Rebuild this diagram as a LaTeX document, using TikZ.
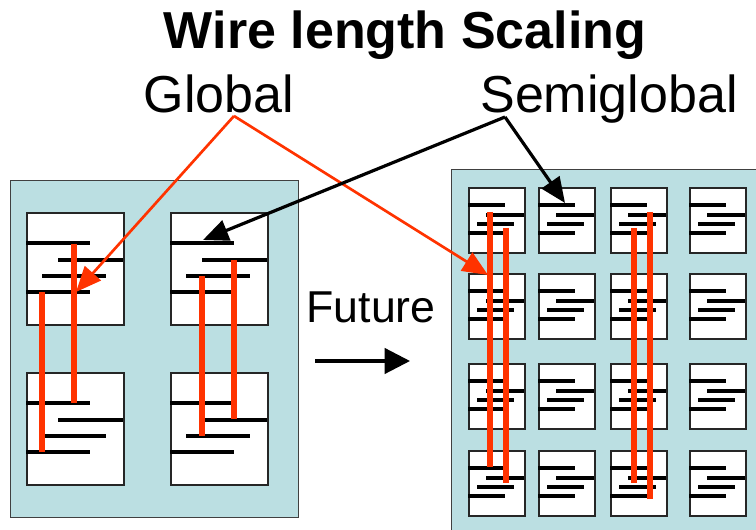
\documentclass[tikz,border=0pt]{standalone}
\usepackage{fontspec}
\setmainfont{Liberation Sans}
\usetikzlibrary{arrows.meta, positioning}
\definecolor{chipblue}{HTML}{BBDFE2}
\definecolor{wirered}{HTML}{FF3300}
\tikzset{
	panelnode/.style={
			draw=black!75,
			fill=chipblue,
			line width=1pt,
			inner sep=0pt,
			anchor=north west
		},
	cellnode/.style={
			draw=black!85,
			fill=white,
			line width=1.2pt,
			inner sep=0pt,
			anchor=north west
		},
	wire/.style={
			draw=wirered,
			line width=#1
		},
	pointer/.style={
			line width=#1,
			-{Triangle[length=19pt, width=16pt]}
		},
	titletext/.style={
			font=\fontsize{39}{46}\selectfont\bfseries,
			anchor=base,
			inner sep=0pt
		},
	labeltext/.style={
			font=\fontsize{39}{46}\selectfont,
			anchor=base,
			inner sep=0pt
		}
}
% one cell with its four tracks: name, x, y, width, height, track width
\newcommand{\chipcell}[6]{%
	\node[cellnode, minimum width=#4*0.75pt, minimum height=#5*0.75pt] (#1) at (#2,#3) {};
	\begin{scope}[shift={(#2,#3)}, xscale=#4, yscale=#5, line width=#6]
		\draw (0,0.277) -- (0.66,0.277);
		\draw (0.33,0.43) -- (1,0.43);
		\draw (0.165,0.57) -- (0.825,0.57);
		\draw (0,0.71) -- (0.66,0.71);
	\end{scope}}

\begin{document}
\begin{tikzpicture}[x=0.75pt, y=-0.75pt]
\clip (0,0) rectangle (756,530);

\node[titletext] (title) at (405,49) {Wire length Scaling};
\node[labeltext] (global) at (219,113) {Global};
\node[labeltext] (semi) at (609,113) {Semiglobal};
\node[labeltext, font=\fontsize{33.5}{40}\selectfont] (future) at (371,323) {Future};

% today
\node[panelnode, minimum width=288*0.75pt, minimum height=337*0.75pt] (now) at (10,180) {};
\chipcell{L1}{26}{212}{97}{112}{3pt}
\chipcell{L2}{170}{212}{97}{112}{3pt}
\chipcell{L3}{26}{372}{97}{112}{3pt}
\chipcell{L4}{170}{372}{97}{112}{3pt}

\draw[wire=4.5pt] (74,244) -- (74,403);
\draw[wire=4.5pt] (42,292) -- (42,452);
\draw[wire=4.5pt] (202,276) -- (202,436);
\draw[wire=4.5pt] (234,260) -- (234,419);

% future
\node[panelnode, minimum width=330*0.75pt, minimum height=380*0.75pt] (later) at (451,169) {};
\foreach \cx [count=\i] in {468,538,610,689}
	\foreach \cy [count=\j] in {187,273,363,450}
		{\chipcell{R\i\j}{\cx}{\cy}{56}{65}{2.5pt}}

\draw[wire=3.9pt] (490,212) -- (490,467);
\draw[wire=3.9pt] (506,228) -- (506,483);
\draw[wire=3.9pt] (634,228) -- (634,483);
\draw[wire=3.9pt] (650,212) -- (650,499);

% pointers
\coordinate (gfoot) at (234,116);
\coordinate (sfoot) at (505,117);
\coordinate (gnow) at (76,292);
\coordinate (glater) at (488,275);
\coordinate (snow) at (203,240);
\coordinate (slater) at (565,203);
\coordinate (fstart) at (315,361);
\coordinate (fend) at (410,361);

\draw[pointer=2pt, wirered] (gfoot) -- (gnow);
\draw[pointer=2pt, wirered] (gfoot) -- (glater);
\draw[pointer=2.4pt] (sfoot) -- (snow);
\draw[pointer=2.4pt] (sfoot) -- (slater);
\draw[line width=2.4pt, -{Triangle[length=19pt, width=19pt]}] (fstart) -- (fend);

\end{tikzpicture}
\end{document}
